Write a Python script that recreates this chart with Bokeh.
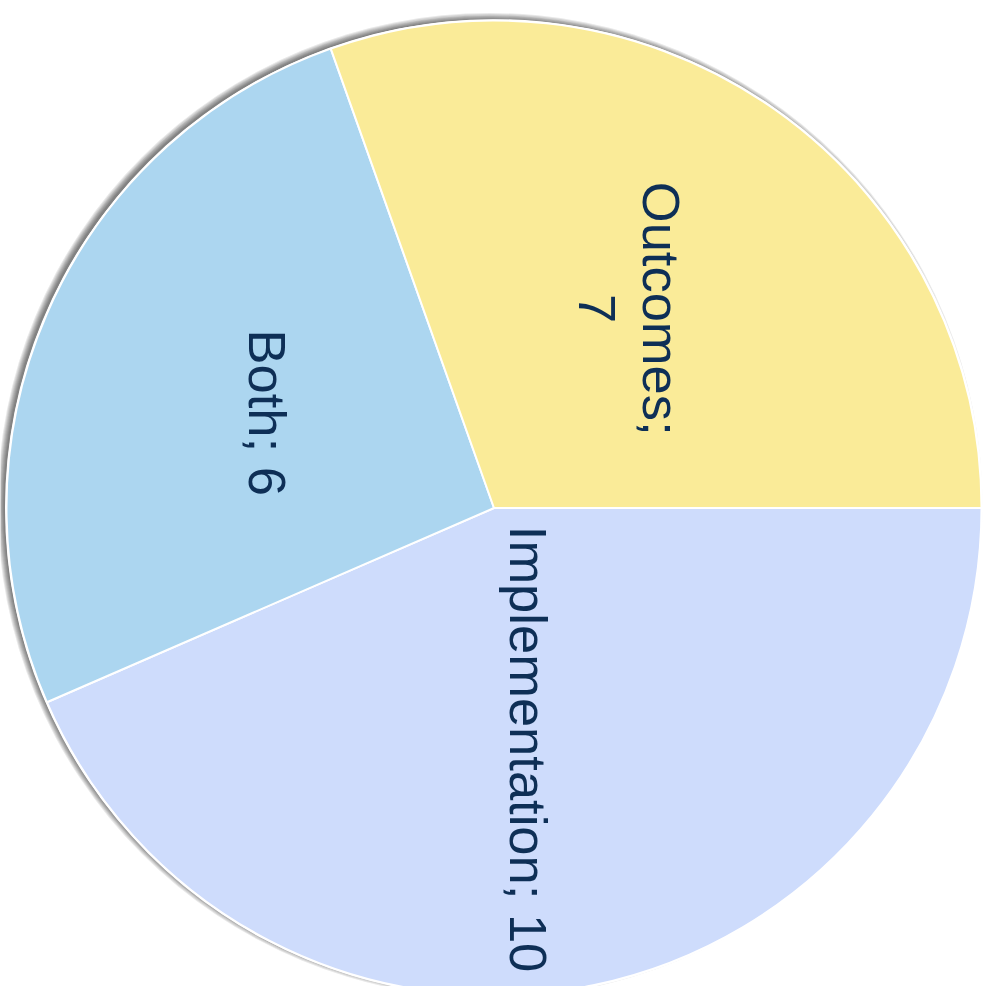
import math
from bokeh.plotting import figure
from bokeh.models import Range1d, ColumnDataSource
from bokeh.core.properties import value
from bokeh.embed import file_html
from bokeh.resources import INLINE

# ---- data ----
categories = ["Implementation", "Both", "Outcomes"]
counts = [10, 6, 7]
label_texts = ["Implementation; 10", "Both; 6", "Outcomes;\n7"]
colors = ["#CEDCFC", "#ACD6F0", "#FAEB98"]

# ---- layout constants ----
W, H = 988, 986
CX0, CY0 = 493.5, 507.5          # pie centre in figure pixels (from top-left)
R = 487.5                         # pie radius (px)
label_r = [243.5, 246.0, 241.0]   # label distance from centre (px)
label_dang = [3.6, -0.7, -1.0]    # small angular nudges of labels (deg, clockwise)
TEXT_COLOR = "#0E2F56"

p = figure(width=W, height=H, output_backend="svg", toolbar_location=None,
           x_range=Range1d(-CX0, W - CX0), y_range=Range1d(-(H - CY0), CY0),
           min_border=0)
p.axis.visible = False
p.grid.visible = False
p.outline_line_color = None
p.background_fill_color = "white"
p.border_fill_color = "white"

total = sum(counts)
starts, ends, mids = [], [], []
cum = 0.0
for c in counts:
    a0 = cum / total * 2 * math.pi
    cum += c
    a1 = cum / total * 2 * math.pi
    starts.append(-a0)
    ends.append(-a1)
    mids.append((a0 + a1) / 2)

# soft shadow (offset up-left)
sx, sy = -4.0, 2.5
for k in range(7):
    p.circle(x=[sx], y=[sy], radius=R - 1 + k, fill_color="black",
             fill_alpha=0.09, line_color=None)
p.circle(x=[0], y=[0], radius=R + 1.5, fill_color="white", line_color=None)

src = ColumnDataSource(dict(start=starts, end=ends, color=colors, cat=categories))
p.wedge(x=0, y=0, radius=R, start_angle="start", end_angle="end",
        direction="clock", fill_color="color", line_color="white",
        line_width=2, source=src)

lx, ly = [], []
for m, r, d in zip(mids, label_r, label_dang):
    a = m + math.radians(d)
    lx.append(r * math.cos(a))
    ly.append(-r * math.sin(a))

p.text(x=lx, y=ly, text=label_texts, angle=-math.pi / 2,
       text_align="center", text_baseline="middle",
       text_font=value("Liberation Sans"), text_font_size="52.5px",
       text_color=TEXT_COLOR, text_line_height=1.1)

open("out.html", "w").write(file_html(p, INLINE))
